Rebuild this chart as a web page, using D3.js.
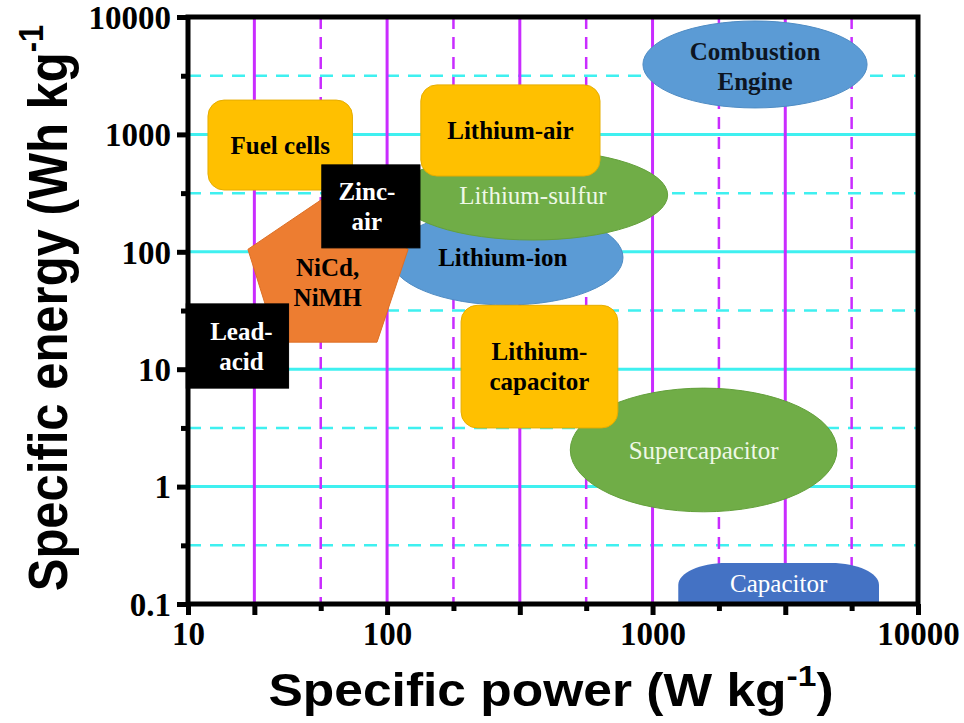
<!DOCTYPE html>
<html>
<head>
<meta charset="utf-8">
<script src="https://cdn.jsdelivr.net/npm/d3@7"></script>
<style>
  body { margin: 0; background: #fff; }
  svg { display: block; }
</style>
</head>
<body>
<svg id="chart" width="964" height="723"></svg>
<script>
// Ragone plot: specific energy vs specific power of storage / conversion technologies

// ---- axis data ----
const powerTicks = [10, 100, 1000, 10000];
const powerTickLabels = ["10", "100", "1000", "10000"];
const energyTicks = [0.1, 1, 10, 100, 1000, 10000];
const energyTickLabels = ["0.1", "1", "10", "100", "1000", "10000"];
const energyHalfDecades = [0.316, 3.16, 31.6, 316, 3160];
// vertical grid slots (11 equal slots across the power axis)
const powerSlotCount = 11;
const powerSolidSlots = [1, 3, 5, 7, 9];
const powerDashedSlots = [2, 4, 6, 8, 10];

// ---- technology regions (power in W/kg, energy in Wh/kg) ----
const techNames = ["Combustion Engine", "Fuel cells", "Lithium-ion", "Lithium-sulfur", "Lithium-air",
                   "NiCd, NiMH", "Zinc-air", "Lead-acid", "Supercapacitor", "Lithium-capacitor", "Capacitor"];
const techLabels = [["Combustion", "Engine"], ["Fuel cells"], ["Lithium-ion"], ["Lithium-sulfur"], ["Lithium-air"],
                    ["NiCd,", "NiMH"], ["Zinc-", "air"], ["Lead-", "acid"], ["Supercapacitor"], ["Lithium-", "capacitor"], ["Capacitor"]];
const techPowerMin  = [920, 12.6, 103, 110, 134, 28, 47, 9.8, 490, 190, 1250];
const techPowerMax  = [6430, 67, 774, 1140, 634, 120, 133, 32, 4950, 740, 7130];
const techEnergyMin = [1680, 336, 35.2, 126, 442, 17, 108, 6.9, 0.61, 3.16, 0.1];
const techEnergyMax = [9250, 1960, 227, 736, 2640, 300, 550, 36, 6.9, 35, 0.223];

// NiCd / NiMH pentagon vertices
const nicdPower  = [20, 50, 120, 89, 28];
const nicdEnergy = [105, 300, 105, 17, 17];

// ---- appearance ----
const YELLOW = "#FFC000", BLUE = "#5B9BD5", GREEN = "#70AD47", ORANGE = "#ED7D31", DEEPBLUE = "#4472C4";
const look = {
  "Combustion Engine": { shape: "ellipse", fill: BLUE, stroke: "#4f8cc4", text: "#0d1522", bold: true, dy: 2 },
  "Fuel cells":        { shape: "round",   fill: YELLOW, stroke: "#e6ad00", text: "#000", bold: true },
  "Lithium-ion":       { shape: "ellipse", fill: BLUE, stroke: "#4f8cc4", text: "#000", bold: true, dx: -4 },
  "Lithium-sulfur":    { shape: "ellipse", fill: GREEN, stroke: "#63a03b", text: "#eef8e6", bold: false },
  "Lithium-air":       { shape: "round",   fill: YELLOW, stroke: "#e6ad00", text: "#000", bold: true },
  "NiCd, NiMH":        { shape: "poly",    fill: ORANGE, stroke: "#dd6f25", text: "#000", bold: true },
  "Zinc-air":          { shape: "square",  fill: "#000", stroke: "#000", text: "#fff", bold: true, dx: -4 },
  "Lead-acid":         { shape: "square",  fill: "#000", stroke: "#000", text: "#fff", bold: true, dx: 4 },
  "Supercapacitor":    { shape: "ellipse", fill: GREEN, stroke: "#63a03b", text: "#eef8e6", bold: false },
  "Lithium-capacitor": { shape: "round",   fill: YELLOW, stroke: "#e6ad00", text: "#000", bold: true },
  "Capacitor":         { shape: "dome",    fill: DEEPBLUE, stroke: DEEPBLUE, text: "#fff", bold: false, dy: -2 }
};

const margin = { left: 188, top: 17 };
const W = 730, H = 587;

const svg = d3.select("#chart");
const g = svg.append("g").attr("transform", `translate(${margin.left},${margin.top})`);

const slot = d3.scaleLinear().domain([0, powerSlotCount]).range([0, W]);
// piecewise log scale: 10→slot 0, 100→slot 3, 1000→slot 7, 10000→slot 11
const x = d3.scaleLog().domain(powerTicks).range([slot(0), slot(3), slot(7), slot(11)]);
const y = d3.scaleLog().domain([0.1, 10000]).range([H, 0]);

const CYAN = "#3ff0f0", MAGENTA = "#c92cff";

// ---- grid ----
const grid = g.append("g");
grid.selectAll("line.hs").data(energyTicks.slice(1, -1)).join("line")
  .attr("x1", 0).attr("x2", W).attr("y1", d => y(d)).attr("y2", d => y(d))
  .attr("stroke", CYAN).attr("stroke-width", 3);
grid.selectAll("line.hd").data(energyHalfDecades).join("line")
  .attr("x1", 0).attr("x2", W).attr("y1", d => y(d)).attr("y2", d => y(d))
  .attr("stroke", CYAN).attr("stroke-width", 2.5).attr("stroke-dasharray", "13,9");
grid.selectAll("line.vs").data(powerSolidSlots).join("line")
  .attr("y1", 0).attr("y2", H).attr("x1", d => slot(d)).attr("x2", d => slot(d))
  .attr("stroke", MAGENTA).attr("stroke-width", 3);
grid.selectAll("line.vd").data(powerDashedSlots).join("line")
  .attr("y1", 0).attr("y2", H).attr("x1", d => slot(d)).attr("x2", d => slot(d))
  .attr("stroke", MAGENTA).attr("stroke-width", 2.5).attr("stroke-dasharray", "12,8");

// ---- regions ----
const regions = g.append("g");
techNames.forEach((name, i) => {
  const s = look[name];
  const x0 = x(techPowerMin[i]), x1 = x(techPowerMax[i]);
  const y0 = y(techEnergyMax[i]), y1 = y(techEnergyMin[i]);
  let cx = (x0 + x1) / 2, cy = (y0 + y1) / 2;
  if (s.shape === "ellipse") {
    regions.append("ellipse").attr("cx", cx).attr("cy", cy)
      .attr("rx", (x1 - x0) / 2).attr("ry", (y1 - y0) / 2)
      .attr("fill", s.fill).attr("stroke", s.stroke).attr("stroke-width", 1);
  } else if (s.shape === "round" || s.shape === "square") {
    regions.append("rect").attr("x", x0).attr("y", y0)
      .attr("width", x1 - x0).attr("height", y1 - y0)
      .attr("rx", s.shape === "round" ? 16 : 0)
      .attr("fill", s.fill).attr("stroke", s.stroke).attr("stroke-width", 1);
  } else if (s.shape === "dome") {
    const rx = 48, ry = 22;
    const p = d3.path();
    p.moveTo(x0, y1);
    p.lineTo(x0, y0 + ry);
    p.bezierCurveTo(x0, y0 + ry * 0.45, x0 + rx * 0.45, y0, x0 + rx, y0);
    p.lineTo(x1 - rx, y0);
    p.bezierCurveTo(x1 - rx * 0.45, y0, x1, y0 + ry * 0.45, x1, y0 + ry);
    p.lineTo(x1, y1);
    p.closePath();
    regions.append("path").attr("d", p.toString()).attr("fill", s.fill);
    cy = y0 + 22;
  } else if (s.shape === "poly") {
    const pts = nicdPower.map((p, k) => [x(p), y(nicdEnergy[k])]);
    regions.append("polygon").attr("points", pts.map(d => d.join(",")).join(" "))
      .attr("fill", s.fill).attr("stroke", s.stroke).attr("stroke-width", 1);
    const c = d3.polygonCentroid(pts);
    cx = c[0]; cy = c[1] + 6;
  }
  cy += (s.dy || 0);
  const lines = techLabels[i];
  const t = regions.append("text")
    .attr("x", cx + (s.dx || 0)).attr("y", cy)
    .attr("text-anchor", "middle")
    .attr("font-family", "'Liberation Serif', 'Times New Roman', serif")
    .attr("font-size", 25)
    .attr("font-weight", s.bold ? "bold" : "normal")
    .attr("fill", s.text);
  lines.forEach((ln, k) => {
    t.append("tspan").attr("x", cx + (s.dx || 0))
      .attr("dy", k === 0 ? (0.35 * 25 - (lines.length - 1) * 15) : 30)
      .text(ln);
  });
});

// ---- axes ----
const tickStyle = sel => {
  sel.select(".domain").remove();
  sel.selectAll(".tick line").attr("stroke", "#000").attr("stroke-width", 5);
};
const axisFont = "'Liberation Serif', 'Times New Roman', serif";

// bottom tick marks
g.append("g").attr("transform", `translate(0,${H})`)
  .call(d3.axisBottom(slot).tickValues([0, ...powerSolidSlots, 11]).tickSize(11).tickFormat(""))
  .call(tickStyle);
g.append("g").attr("transform", `translate(0,${H})`)
  .call(d3.axisBottom(slot).tickValues(powerDashedSlots).tickSize(7).tickFormat(""))
  .call(tickStyle);
// bottom labels
const xLab = g.append("g").attr("transform", `translate(0,${H})`)
  .call(d3.axisBottom(x).tickValues(powerTicks).tickSize(0).tickPadding(18)
        .tickFormat((d, i) => powerTickLabels[i]));
xLab.select(".domain").remove();
xLab.selectAll("text").attr("font-family", axisFont).attr("font-weight", "bold")
  .attr("font-size", 33).attr("fill", "#000");

// left ticks + labels
const yAx = g.append("g")
  .call(d3.axisLeft(y).tickValues(energyTicks).tickSize(11).tickPadding(6)
        .tickFormat((d, i) => energyTickLabels[i]))
  .call(tickStyle);
yAx.selectAll("text").attr("font-family", axisFont).attr("font-weight", "bold")
  .attr("font-size", 33).attr("fill", "#000").attr("dy", "0.34em");
g.append("g")
  .call(d3.axisLeft(y).tickValues(energyHalfDecades).tickSize(7).tickFormat(""))
  .call(tickStyle);

// frame
g.append("rect").attr("x", 0).attr("y", 0).attr("width", W).attr("height", H)
  .attr("fill", "none").attr("stroke", "#000").attr("stroke-width", 5);

// ---- axis titles ----
const titleFont = "'Liberation Sans', Arial, sans-serif";
const xt = svg.append("text")
  .attr("transform", "translate(551,706) scale(1.12,1)")
  .attr("text-anchor", "middle")
  .attr("font-family", titleFont).attr("font-weight", "bold").attr("font-size", 46).attr("fill", "#000");
xt.append("tspan").text("Specific power (W kg");
xt.append("tspan").attr("font-size", 30).attr("dy", -20).text("-1");
xt.append("tspan").attr("dy", 20).text(")");

const yt = svg.append("text")
  .attr("transform", "translate(67,308) scale(1.12,1) rotate(-90)")
  .attr("text-anchor", "middle")
  .attr("font-family", titleFont).attr("font-weight", "bold").attr("font-size", 49).attr("fill", "#000");
yt.append("tspan").text("Specific energy (Wh kg");
yt.append("tspan").attr("font-size", 31).attr("dy", -21).text("-1");
</script>
</body>
</html>
